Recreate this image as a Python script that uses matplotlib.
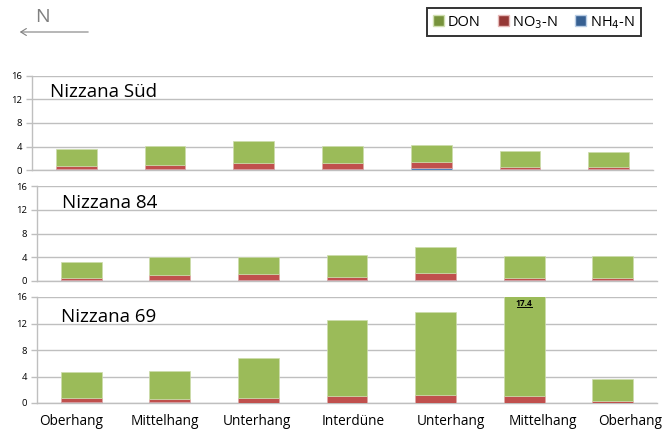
import numpy as np
import matplotlib
matplotlib.use("Agg")
import matplotlib.pyplot as plt
from matplotlib.patches import Patch, FancyArrowPatch
from matplotlib.lines import Line2D

plt.rcParams['font.family'] = ['Open Sans', 'DejaVu Sans']

# slope positions along the transect (N to the left)
categories = ['Oberhang', 'Mittelhang', 'Unterhang', 'Interdüne', 'Unterhang', 'Mittelhang', 'Oberhang']
sites = ['Nizzana Süd', 'Nizzana 84', 'Nizzana 69']

# N fractions, stacked bottom to top: NH4-N, NO3-N, DON
nh4_sued = [0.2, 0.2, 0.15, 0.15, 0.3, 0.12, 0.1]
no3_sued = [0.55, 0.6, 1.1, 1.05, 1.0, 0.43, 0.35]
don_sued = [2.85, 3.3, 3.7, 2.9, 2.95, 2.7, 2.65]

nh4_84 = [0.25, 0.2, 0.2, 0.1, 0.1, 0.2, 0.2]
no3_84 = [0.32, 0.8, 0.9, 0.5, 1.27, 0.35, 0.3]
don_84 = [2.68, 3.0, 2.9, 3.73, 4.33, 3.62, 3.67]

nh4_69 = [0.2, 0.15, 0.03, 0.03, 0.03, 0.03, 0.03]
no3_69 = [0.5, 0.4, 0.67, 0.97, 1.12, 0.97, 0.22]
don_69 = [3.96, 4.21, 6.02, 11.54, 12.65, 16.4, 3.31]

yticks = [0, 4, 8, 12, 16]

c_don, c_no3, c_nh4 = '#9BBB59', '#C0504D', '#4F81BD'
grid_c = '#BFBFBF'

fig = plt.figure(figsize=(6.64, 4.34), dpi=100)

# axes boxes in figure fractions [left, bottom, width, height]
boxes = [
    [32 / 664, 1 - 170 / 434, 621 / 664, 94 / 434],
    [37 / 664, 1 - 281 / 434, 620 / 664, 95 / 434],
    [37 / 664, 1 - 403 / 434, 620 / 664, 106 / 434],
]
title_pos = [(0.029, 0.777), (0.040, 0.768), (0.039, 0.764)]
data = [(nh4_sued, no3_sued, don_sued), (nh4_84, no3_84, don_84), (nh4_69, no3_69, don_69)]

x = np.arange(len(categories))
w = 0.46

val_txt = None
for k, (box, (nh4, no3, don)) in enumerate(zip(boxes, data)):
    ax = fig.add_axes(box)
    nh4 = np.array(nh4)
    no3 = np.array(no3)
    don = np.array(don)
    ax.bar(x, nh4, w, color=c_nh4, edgecolor='#a7c0de', linewidth=0.5, zorder=3)
    ax.bar(x, no3, w, bottom=nh4, color=c_no3, edgecolor='#dfa7a6', linewidth=0.5, zorder=3)
    ax.bar(x, don, w, bottom=nh4 + no3, color=c_don, edgecolor='#cddcac', linewidth=0.5, zorder=3)
    ax.set_xlim(-0.5, len(categories) - 0.5)
    ax.set_ylim(0, 16)
    ax.set_yticks(yticks)
    ax.yaxis.grid(True, color=grid_c, linewidth=1.0, zorder=0)
    ax.set_axisbelow(True)
    for s in ['top', 'right']:
        ax.spines[s].set_visible(False)
    for s in ['left', 'bottom']:
        ax.spines[s].set_color(grid_c)
        ax.spines[s].set_linewidth(1.0)
    ax.tick_params(axis='y', length=4, width=1.0, color=grid_c, labelsize=6.8, labelcolor='black', pad=3)
    ax.tick_params(axis='x', length=0)
    ax.text(title_pos[k][0], title_pos[k][1], sites[k], transform=ax.transAxes,
            fontsize=13.5, va='baseline', ha='left', color='black')
    if k < 2:
        ax.set_xticks([])
    else:
        offs = [-0.11, -0.06, -0.02, 0.07, 0.17, 0.21, 0.2]
        ax.set_xticks(x + np.array(offs))
        ax.set_xticklabels(categories, fontsize=9.8)
        ax.tick_params(axis='x', pad=8)
        # value of the clipped bar
        tot = nh4 + no3 + don
        i = int(np.argmax(tot))
        val_txt = ax.text(x[i], 15.0, '%.1f' % tot[i], fontsize=6, fontweight='bold',
                          ha='center', va='center', zorder=5)

# legend
handles = [Patch(facecolor='#77933C', edgecolor='#d0dfb0', label='DON'),
           Patch(facecolor='#953735', edgecolor='#e6b9b8', label='NO$_3$-N'),
           Patch(facecolor='#376092', edgecolor='#b9cde5', label='NH$_4$-N')]
leg = fig.legend(handles=handles, loc='upper right', bbox_to_anchor=(641 / 664, 1 - 8 / 434),
                 ncol=3, fontsize=10.5, frameon=True, fancybox=False, borderaxespad=0,
                 handlelength=0.75, handleheight=0.75, handletextpad=0.25, columnspacing=1.2,
                 borderpad=0.4)
leg.get_frame().set_edgecolor('black')
leg.get_frame().set_linewidth(1.4)

# north arrow
fig.text(42.5 / 664, 1 - 17 / 434, 'N', fontsize=14, color='#808080', ha='center', va='center')
fig.patches.append(FancyArrowPatch(
    (91 / 664, 1 - 32 / 434), (17 / 664, 1 - 32 / 434), transform=fig.transFigure,
    arrowstyle='->,head_length=4,head_width=2.5', color='#808080', linewidth=0.8))

# underline for the value label
fig.canvas.draw()
bb = val_txt.get_window_extent()
W, H = fig.bbox.width, fig.bbox.height
fig.lines.append(Line2D([(bb.x0 + 1) / W, (bb.x1 - 1) / W], [(bb.y0 + 1) / H] * 2,
                        transform=fig.transFigure, color='black', linewidth=0.7))

fig.savefig('out.png', dpi=100)
